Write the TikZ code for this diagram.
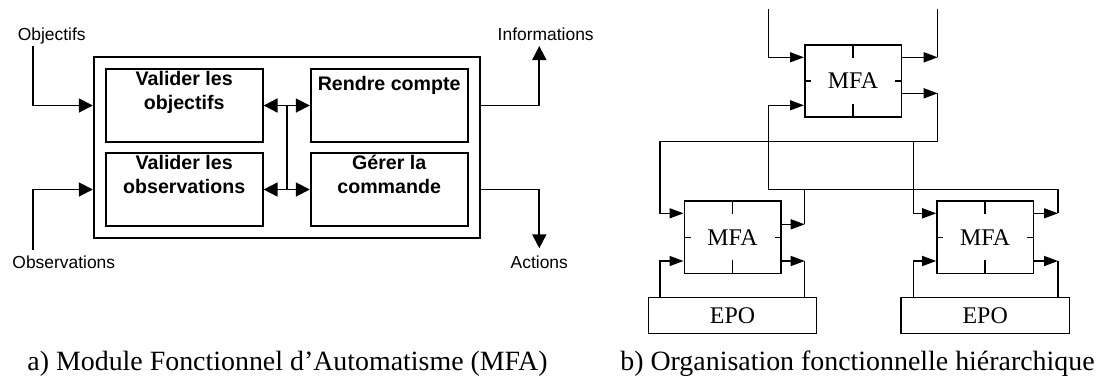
\documentclass[tikz,border=0pt]{standalone}
\usepackage{fontspec}
\setmainfont{Liberation Serif}
\setsansfont{Liberation Sans}
\usetikzlibrary{arrows.meta}
\tikzstyle{lbl}=[font=\sffamily\fontsize{17.5}{21}\selectfont, inner sep=0pt, anchor=base]
\tikzstyle{blk}=[draw, line width=1.8bp, minimum width=157bp, minimum height=72.4bp, inner sep=0pt]
\tikzstyle{blktxt}=[anchor=north, align=center, inner sep=0pt, yshift=-3bp, font=\sffamily\bfseries\fontsize{19.7}{23.6}\selectfont, execute at begin node=\rule{0pt}{18.5bp}]
\tikzstyle{fl}=[line width=1.8bp, -{Triangle[length=14bp,width=14bp]}]
\tikzstyle{lien}=[line width=1.5bp]
\tikzstyle{fl2}=[lien, -{Triangle[length=14bp,width=10bp]}]
\tikzstyle{modbox}=[draw, lien, minimum width=96.5bp, minimum height=72.4bp, inner sep=0pt, font=\fontsize{24}{28}\selectfont]
\tikzstyle{epobox}=[draw, lien, minimum width=168.4bp, minimum height=36bp, inner sep=0pt, font=\fontsize{24}{28}\selectfont]
\tikzstyle{legende}=[anchor=base, inner sep=0pt, font=\fontsize{28}{32}\selectfont]

\begin{document}
\begin{tikzpicture}[x=1bp,y=-1bp]
      \useasboundingbox (0,0) rectangle (1100,383);
      % a) module
      \node [draw, line width=1.8bp, minimum width=386.3bp, minimum height=180.4bp] (mfa) at (286.85,147.5) {};
      \node [blk, label={[blktxt]north:Valider les\\objectifs}] (valobj) at (184.2,105.5) {};
      \node [blk, label={[blktxt]north:Valider les\\observations}] (valobs) at (184.2,189.5) {};
      \node [blk, label={[blktxt]north:Rendre compte}] (rendre) at (389.2,105.5) {};
      \node [blk, label={[blktxt]north:Gérer la\\commande}] (gerer) at (389.2,189.5) {};
      \coordinate (bh) at (286.7,105.5);
      \coordinate (bb) at (286.7,189.5);
      \draw [line width=1.8bp] (bh) -- (bb);
      \draw [fl] (bh) -- (valobj.east);
      \draw [fl] (bh) -- (rendre.west);
      \draw [fl] (bb) -- (valobs.east);
      \draw [fl] (bb) -- (gerer.west);
      \node [lbl] (objectifs) at (51.7,40.3) {Objectifs};
      \node [lbl] (observations) at (63.8,268.3) {Observations};
      \node [lbl] (informations) at (545.7,40.3) {Informations};
      \node [lbl] (actions) at (539.3,268.3) {Actions};
      \coordinate (objin) at (33.3,46);
      \coordinate (obsin) at (33.3,250);
      \coordinate (infout) at (539.3,46);
      \coordinate (actout) at (539.3,248.3);
      \draw [fl] (objin) |- (valobj -| mfa.west);
      \draw [fl] (obsin) |- (valobs -| mfa.west);
      \draw [fl] (rendre -| mfa.east) -| (infout);
      \draw [fl] (gerer -| mfa.east) -| (actout);
      % b) organisation
      \node [modbox] (haut) at (853,81) {MFA};
      \node [modbox] (mfag) at (732.5,237.3) {MFA};
      \node [modbox] (mfad) at (985.2,237.3) {MFA};
      \node [epobox] (epog) at (732.5,315.3) {EPO};
      \node [epobox] (epod) at (985.2,315.3) {EPO};
      \foreach \m in {haut,mfag,mfad} {
        \draw [lien] (\m.north) -- ++(0,14);
        \draw [lien] (\m.south) -- ++(0,-14);
        \draw [lien] (\m.west) -- ++(7,0);
        \draw [lien] (\m.east) -- ++(-7,0);
      }
      \coordinate (h1) at (768.7,9.3);
      \coordinate (h1b) at (768.7,57.3);
      \coordinate (h2) at (937.7,9.3);
      \coordinate (h2b) at (937.7,57.3);
      \draw [fl2] (h1) -- (h1b) -- (h1b -| haut.west);
      \draw [fl2] (h2b -| haut.east) -- (h2b);
      \draw [lien] (h2b) -- (h2);
      \coordinate (o2) at (937.7,93.3);
      \coordinate (j1) at (937.7,141.3);
      \coordinate (j2) at (913.3,141.3);
      \coordinate (j3) at (660,141.3);
      \coordinate (g1) at (660,213.3);
      \coordinate (d1) at (913.3,213.3);
      \draw [fl2] (o2 -| haut.east) -- (o2);
      \draw [lien] (o2) -- (j1) -- (j3);
      \draw [fl2] (j3) -- (g1) -- (g1 -| mfag.west);
      \draw [fl2] (j2) -- (d1) -- (d1 -| mfad.west);
      \coordinate (r1) at (768.7,105.3);
      \coordinate (r2) at (768.7,189.3);
      \coordinate (r3) at (804.7,189.3);
      \coordinate (r4) at (1058,189.3);
      \coordinate (g2) at (804.7,224.3);
      \coordinate (d2) at (1058,213.3);
      \draw [fl2] (d2) -- (r4) -- (r2) -- (r1) -- (r1 -| haut.west);
      \draw [fl2] (g2 -| mfag.east) -- (g2);
      \draw [lien] (g2) -- (r3);
      \draw [fl2] (d2 -| mfad.east) -- (d2);
      \coordinate (e1) at (660,261);
      \coordinate (e2) at (804.7,261);
      \coordinate (e3) at (913.3,261);
      \coordinate (e4) at (1058,261);
      \draw [fl2] (e1 |- epog.north) -- (e1) -- (e1 -| mfag.west);
      \draw [fl2] (e2 -| mfag.east) -- (e2);
      \draw [lien] (e2) -- (e2 |- epog.north);
      \draw [fl2] (e3 |- epod.north) -- (e3) -- (e3 -| mfad.west);
      \draw [fl2] (e4 -| mfad.east) -- (e4);
      \draw [lien] (e4) -- (e4 |- epod.north);
      \node [legende] (lega) at (287.5,370) {a) Module Fonctionnel d’Automatisme (MFA)};
      \node [legende] (legb) at (857.5,370) {b) Organisation fonctionnelle hiérarchique};
\end{tikzpicture}
\end{document}
